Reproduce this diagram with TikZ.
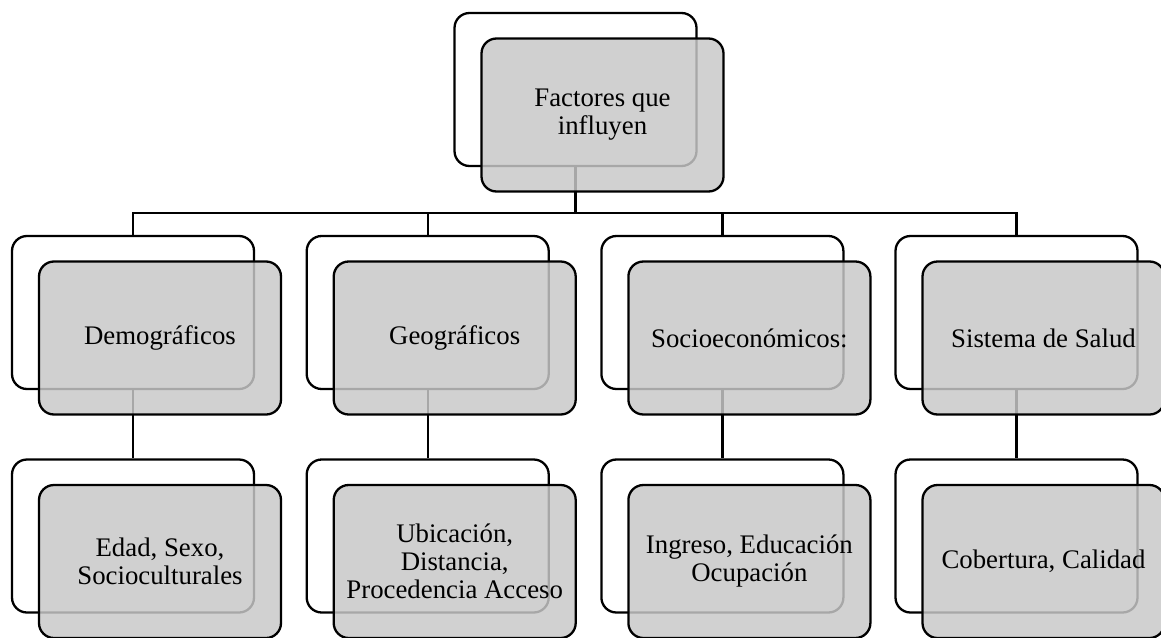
\documentclass[tikz,border=0pt]{standalone}
\usepackage{fontspec}
\setmainfont{Liberation Serif}
\begin{document}
\begin{tikzpicture}[x=1pt,y=-1pt,
  backbox/.style={draw=black, line width=2.3pt, fill=white, rounded corners=15pt,
    minimum width=242pt, minimum height=153pt, inner sep=0pt},
  frontbox/.style={draw=black, line width=2.3pt, fill={rgb,255:red,200;green,200;blue,200},
    fill opacity=0.84, text opacity=1, rounded corners=15pt,
    minimum width=242pt, minimum height=153pt, inner sep=2pt, align=center,
    font=\fontsize{26.8}{28}\selectfont},
  link/.style={draw=black, line width=2.3pt}]
\useasboundingbox (0,0) rectangle (1161,637);
% back boxes
\node[backbox] (tb) at (575.5,89.5) {};
\foreach \i/\x in {1/133,2/427.7,3/722.4,4/1016.5}{
  \node[backbox] (b\i) at (\x,312.5) {};
  \node[backbox] (c\i) at (\x,536) {};
}
% connectors
\coordinate (bar) at (0,213);
\foreach \i in {1,2,3,4}{
  \draw[link] (tb.south) -- (tb.south |- bar) -| (b\i.north);
  \draw[link] (b\i.south) -- (c\i.north);
}
% front boxes
\node[frontbox] (tf) at (602.5,115) {Factores que\\influyen};
\node[frontbox] (f1) at (160,338) {Demográficos};
\node[frontbox] (f2) at (454.7,338) {Geográficos};
\node[frontbox] (f3) at (749.4,338) {Socioeconómicos:};
\node[frontbox] (f4) at (1043.5,338) {Sistema de Salud};
\node[frontbox] (g1) at (160,561.5) {Edad, Sexo,\\Socioculturales};
\node[frontbox] (g2) at (454.7,561.5) {Ubicación,\\Distancia,\\Procedencia Acceso};
\node[frontbox] (g3) at (749.4,561.5) {Ingreso, Educación\\Ocupación};
\node[frontbox] (g4) at (1043.5,561.5) {Cobertura, Calidad};
\end{tikzpicture}
\end{document}
